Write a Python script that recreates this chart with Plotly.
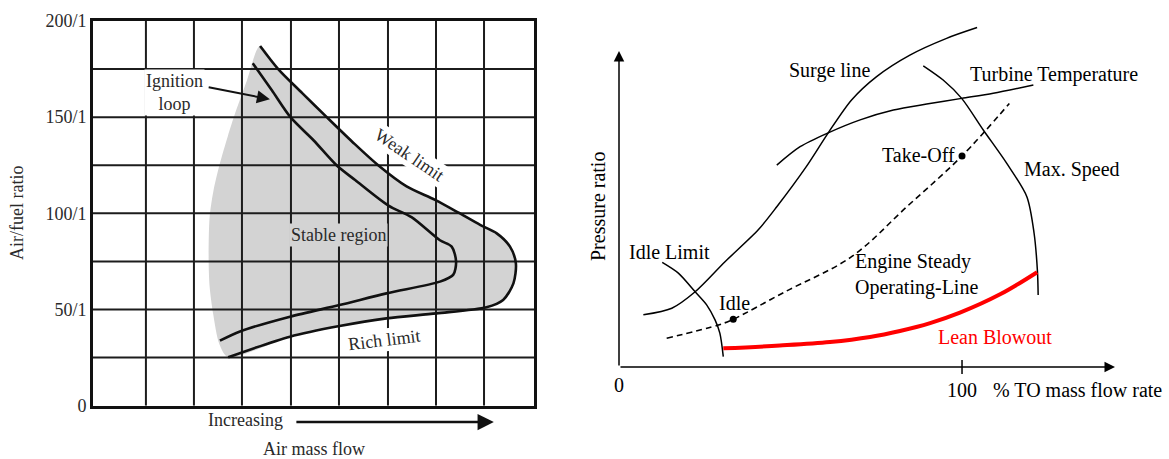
import plotly.graph_objects as go

SERIF = "Liberation Serif"

# ---------------- Left panel: combustor stability loop ----------------
AFR_TICKS = [0, 50, 100, 150, 200]
AFR_TICK_TEXT = ["0", "50/1", "100/1", "150/1", "200/1"]
AFR_GRID = [0, 25, 50, 75, 100, 125, 150, 175, 200]
FLOW_GRID = [0, 1.08, 2.06, 3.04, 4.04, 5.02, 6.02, 7.0, 7.98, 9]

# weak limit (upper branch) running round into the rich limit (lower branch)
WEAK_RICH_FLOW = [3.41, 3.78, 4.27, 4.77, 5.30, 5.82, 6.40, 6.98, 7.45, 7.90, 8.24, 8.51,
                  8.63, 8.58, 8.37, 8.03, 7.01, 5.99, 5.03, 4.02, 2.76]
WEAK_RICH_AFR = [187, 175, 162.5, 150, 137, 125, 114, 107, 100.5, 94, 89.6, 82.7,
                 74, 63.6, 55, 51.2, 48, 45.4, 41.4, 35.9, 25.2]

# ignition loop
IGNITION_FLOW = [3.26, 3.65, 4.03, 4.50, 4.97, 5.35, 6.03, 6.50, 7.08, 7.32, 7.41, 7.35,
                 7.08, 5.99, 5.03, 4.02, 3.00, 2.59]
IGNITION_AFR = [178, 164, 150, 138, 125, 117.3, 104, 98, 86, 82.7, 74.9, 68,
                64.5, 58.4, 52.3, 46.3, 38.6, 33.8]

# left edge of the shaded stable region, bottom to top
STABLE_EDGE_FLOW = [2.76, 2.58, 2.45, 2.38, 2.36, 2.38, 2.46, 2.59, 2.75, 2.90, 3.14]
STABLE_EDGE_AFR = [25.2, 32, 48, 62, 76, 98, 112, 126, 140, 152, 169]

# ---------------- Right panel: compressor operating map ----------------
SURGE_X = [7.1, 15.4, 22.2, 30.9, 40.6, 46.0, 54.6, 61.0, 67.8, 75.1, 84.8, 95.5, 104.4]
SURGE_Y = [16.5, 18.6, 23.8, 33.3, 43.4, 50.7, 63.4, 74.1, 84.5, 91.9, 98.7, 104.0, 107.4]

TURBINE_X = [46.0, 52.8, 61.0, 70.3, 80.0, 89.7, 99.9, 109.1, 120.8]
TURBINE_Y = [63.9, 69.7, 74.1, 78.2, 81.3, 83.2, 85.0, 86.6, 89.2]

MAXSPEED_X = [88.7, 94.5, 99.9, 106.2, 113.0, 118.9, 121.0, 122.0, 122.2]
MAXSPEED_Y = [95.3, 90.8, 85.0, 75.0, 64.5, 53.9, 42.4, 30.1, 22.8]

IDLE_LIMIT_X = [12.6, 17.3, 22.2, 25.6, 28.0, 29.4, 30.4]
IDLE_LIMIT_Y = [33.1, 29.7, 23.8, 19.6, 14.9, 10.7, 3.3]

OPLINE_X = [13.9, 29.0, 33.3, 48.4, 67.8, 83.9, 100.0, 113.8]
OPLINE_Y = [9.1, 13.3, 15.1, 23.8, 34.9, 50.7, 66.8, 83.4]

LEAN_X = [30.4, 46.9, 61.5, 73.2, 81.9, 90.7, 99.4, 111.1, 121.9]
LEAN_Y = [5.9, 6.8, 7.9, 9.5, 11.4, 13.9, 17.2, 23.0, 30.0]

POINT_NAMES = ["Idle", "Take-Off"]
POINT_X = [33.3, 100.0]
POINT_Y = [15.1, 66.8]

FLOW_TICKS = [0, 100]
FLOW_TICK_TEXT = ["0", "100"]
MAP_X_END = 144.6
MAP_Y_END = 100.0

W, H = 1169, 459


def py(pixel):
    """Paper y fraction for a distance in pixels from the top edge."""
    return 1 - pixel / H


fig = go.Figure()

# shaded stable region
fig.add_trace(go.Scatter(
    x=STABLE_EDGE_FLOW + WEAK_RICH_FLOW,
    y=STABLE_EDGE_AFR + WEAK_RICH_AFR,
    mode="lines", fill="toself", fillcolor="#d3d3d3",
    line=dict(width=0, color="#d3d3d3", shape="spline", smoothing=0.8),
    xaxis="x", yaxis="y", hoverinfo="skip", showlegend=False))

# grid drawn over the shading
gx, gy = [], []
for v in FLOW_GRID[1:-1]:
    gx += [v, v, None]
    gy += [AFR_GRID[0], AFR_GRID[-1], None]
for h in AFR_GRID[1:-1]:
    gx += [FLOW_GRID[0], FLOW_GRID[-1], None]
    gy += [h, h, None]
fig.add_trace(go.Scatter(x=gx, y=gy, mode="lines", line=dict(color="#1c1c1c", width=2),
                         xaxis="x", yaxis="y", hoverinfo="skip", showlegend=False))

for xs, ys in [(WEAK_RICH_FLOW, WEAK_RICH_AFR), (IGNITION_FLOW, IGNITION_AFR)]:
    fig.add_trace(go.Scatter(x=xs, y=ys, mode="lines",
                             line=dict(color="#111111", width=2.6, shape="spline", smoothing=0.8),
                             xaxis="x", yaxis="y", hoverinfo="skip", showlegend=False))

# compressor map curves
for xs, ys in [(SURGE_X, SURGE_Y), (TURBINE_X, TURBINE_Y), (MAXSPEED_X, MAXSPEED_Y),
               (IDLE_LIMIT_X, IDLE_LIMIT_Y)]:
    fig.add_trace(go.Scatter(x=xs, y=ys, mode="lines",
                             line=dict(color="black", width=1.5, shape="spline", smoothing=0.8),
                             xaxis="x2", yaxis="y2", hoverinfo="skip", showlegend=False))
fig.add_trace(go.Scatter(x=OPLINE_X, y=OPLINE_Y, mode="lines",
                         line=dict(color="black", width=1.6, dash="6px,4px", shape="spline"),
                         xaxis="x2", yaxis="y2", hoverinfo="skip", showlegend=False))
fig.add_trace(go.Scatter(x=LEAN_X, y=LEAN_Y, mode="lines",
                         line=dict(color="#ff0000", width=4, shape="spline", smoothing=1.0),
                         xaxis="x2", yaxis="y2", hoverinfo="skip", showlegend=False))
fig.add_trace(go.Scatter(x=POINT_X, y=POINT_Y, mode="markers",
                         marker=dict(color="black", size=7),
                         xaxis="x2", yaxis="y2", hoverinfo="skip", showlegend=False))
# tick on the flow axis at 100 %
fig.add_trace(go.Scatter(x=FLOW_TICKS[1:], y=[0] * len(FLOW_TICKS[1:]), mode="markers",
                         cliponaxis=False,
                         marker=dict(symbol="line-ns-open", size=10, color="black",
                                     line=dict(color="black", width=1.5)),
                         xaxis="x2", yaxis="y2", hoverinfo="skip", showlegend=False))

frame = dict(showline=True, mirror=True, linewidth=2.6, linecolor="#111111",
             showgrid=False, zeroline=False, ticks="", automargin=False)

fig.update_layout(
    width=W, height=H, autosize=False, margin=dict(l=0, r=0, t=0, b=0, pad=0),
    paper_bgcolor="white", plot_bgcolor="white", showlegend=False,
    font=dict(family=SERIF, color="#2a2a2a"),
    xaxis=dict(domain=[93 / W, 534 / W], range=[FLOW_GRID[0], FLOW_GRID[-1]],
               showticklabels=False, **frame),
    yaxis=dict(domain=[py(405.7), py(21)], range=[AFR_GRID[0], AFR_GRID[-1]],
               tickvals=AFR_TICKS, ticktext=AFR_TICK_TEXT,
               tickfont=dict(family=SERIF, size=18, color="#2a2a2a"), **frame),
    xaxis2=dict(domain=[619 / W, 1115 / W], range=[0, MAP_X_END], visible=False,
                anchor="y2", automargin=False),
    yaxis2=dict(domain=[py(367), py(20)], range=[0, 109.8], visible=False,
                anchor="x2", automargin=False),
)

LFONT = dict(family=SERIF, size=18, color="#2a2a2a")
RFONT = dict(family=SERIF, size=20, color="black")
ann = []
L = dict(xref="x", yref="y", showarrow=False, font=LFONT)
ann.append(dict(text="Ignition<br>loop", x=1.66, y=163, bgcolor="white", **L))
ann.append(dict(text="", x=3.61, y=159.3, ax=2.33, ay=165.7, axref="x", ayref="y", xref="x", yref="y",
                showarrow=True, arrowhead=2, arrowsize=1.3, arrowwidth=2, arrowcolor="#111111"))
ann.append(dict(text="Stable region", x=5.0, y=88.7, bgcolor="#d3d3d3", **L))
ann.append(dict(text="Weak limit", x=6.46, y=130.4, textangle=34, bgcolor="white", **L))
ann.append(dict(text="Rich limit", x=5.94, y=34.2, textangle=-7, bgcolor="white", **L))
ann.append(dict(text="Increasing", x=3.12, y=py(420), xref="x", yref="paper", yanchor="middle",
                showarrow=False, font=LFONT))
ann.append(dict(text="", x=8.18, y=py(422), ax=4.12, ay=0, axref="x", ayref="pixel",
                xref="x", yref="paper",
                showarrow=True, arrowhead=2, arrowsize=1.3, arrowwidth=2.5, arrowcolor="#111111"))
ann.append(dict(text="Air mass flow", xref="paper", yref="paper", x=313.5 / W, y=py(449),
                xanchor="center", yanchor="middle", showarrow=False, font=LFONT))
ann.append(dict(text="Air/fuel ratio", xref="paper", yref="paper", x=17 / W, y=py(213),
                xanchor="center", yanchor="middle", textangle=-90, showarrow=False, font=LFONT))

R = dict(xref="x2", yref="y2", showarrow=False, font=RFONT)
# axes with arrow heads
ann.append(dict(text="", x=0, y=MAP_Y_END, ax=0, ay=0, axref="x2", ayref="y2", xref="x2", yref="y2",
                showarrow=True, arrowhead=2, arrowsize=1.4, arrowwidth=1.5, arrowcolor="black"))
ann.append(dict(text="", x=MAP_X_END, y=0, ax=0, ay=0, axref="x2", ayref="y2", xref="x2", yref="y2",
                showarrow=True, arrowhead=2, arrowsize=1.4, arrowwidth=1.5, arrowcolor="black"))
B = dict(xref="x2", yref="paper", yanchor="middle", showarrow=False, font=RFONT)
ann.append(dict(text=FLOW_TICK_TEXT[0], x=FLOW_TICKS[0], y=py(385), **B))
ann.append(dict(text=FLOW_TICK_TEXT[1], x=FLOW_TICKS[1], y=py(390), **B))
ann.append(dict(text="% TO mass flow rate", x=133.8, y=py(390), **B))
ann.append(dict(text="Pressure ratio", xref="paper", yref="paper", x=598 / W, y=py(207),
                xanchor="center", yanchor="middle", textangle=-90, showarrow=False, font=RFONT))
ann.append(dict(text="Surge line", x=61.5, y=93.7, **R))
ann.append(dict(text="Turbine Temperature", x=126.8, y=92.4, **R))
ann.append(dict(text="Max. Speed", x=132.0, y=62.6, **R))
ann.append(dict(text="Engine Steady<br>Operating-Line", x=68.1, y=29.4, xanchor="left", align="left", **R))
ann.append(dict(text="Idle Limit", x=14.6, y=36.5, **R))
ann.append(dict(text=POINT_NAMES[0], x=POINT_X[0] + 0.3, y=POINT_Y[0] + 5.1, **R))
ann.append(dict(text=POINT_NAMES[1], x=POINT_X[1] - 1.5, y=POINT_Y[1] + 0.3, xanchor="right", **R))
ann.append(dict(text="Lean Blowout", x=109.6, y=9.4, xref="x2", yref="y2", showarrow=False,
                font=dict(family=SERIF, size=20, color="#ff0000")))

fig.update_layout(annotations=ann)
fig.write_html("out.html")
